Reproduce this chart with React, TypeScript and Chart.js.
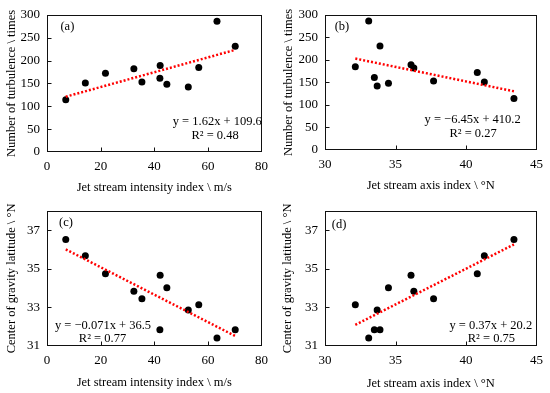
import React, { useEffect, useRef } from 'react';
import { Chart, registerables } from 'chart.js';
Chart.register(...registerables);

// ---- data (12 cases) ----
const intensity = [7.0, 14.3, 21.8, 32.4, 35.4, 42.2, 42.1, 44.7, 52.7, 56.6, 63.4, 70.2];
const axisIndex = [43.4, 41.3, 40.8, 36.3, 37.7, 36.1, 33.5, 34.5, 33.7, 32.15, 33.1, 33.9];
const turbulence = [114, 151, 172, 182, 153, 189, 161, 148, 142, 185, 286, 231];
const gravityLat = [36.52, 35.67, 34.74, 33.84, 33.44, 34.66, 31.84, 34.02, 32.87, 33.14, 31.42, 31.84];

const intensityTicks = [0, 20, 40, 60, 80];
const axisTicks = [30, 35, 40, 45];
const turbulenceTicks = [0, 50, 100, 150, 200, 250, 300];
const latTicks = [31, 33, 35, 37];

const panelLabels = ['(a)', '(b)', '(c)', '(d)'];
const equations = ['y = 1.62x + 109.6', 'y = \u22126.45x + 410.2', 'y = \u22120.071x + 36.5', 'y = 0.37x + 20.2'];
const r2Labels = ['R\u00B2 = 0.48', 'R\u00B2 = 0.27', 'R\u00B2 = 0.77', 'R\u00B2 = 0.75'];
const slopes = [1.62, -6.45, -0.071, 0.37];
const intercepts = [109.6, 410.2, 36.5, 20.2];

const xTitleIntensity = 'Jet stream intensity index \\ m/s';
const xTitleAxis = 'Jet stream axis index \\ \u00B0N';
const yTitleTurb = 'Number of turbulence \\ times';
const yTitleLat = 'Center of gravity latitude \\ \u00B0N';

const FONT = '"Liberation Serif", "Times New Roman", serif';

type Panel = {
  xs: number[]; ys: number[];
  xTicks: number[]; yTicks: number[];
  xMin: number; xMax: number; yMin: number; yMax: number;
  xTitle: string; yTitle: string;
  idx: number;
  // annotation anchors in data coordinates
  labelPos: [number, number]; eqPos: [number, number]; r2Pos: [number, number];
  // layout
  left: number; top: number; w: number; h: number;
  yW: number; xH: number; padTop: number; padRight: number;
  yTitlePad: number; xTitlePad: number;
};

const panels: Panel[] = [
  {
    xs: intensity, ys: turbulence, xTicks: intensityTicks, yTicks: turbulenceTicks,
    xMin: 0, xMax: 80, yMin: 0, yMax: 300, xTitle: xTitleIntensity, yTitle: yTitleTurb, idx: 0,
    labelPos: [7.6, 273], eqPos: [63.5, 66.7], r2Pos: [62.7, 36.6],
    left: 0, top: 0, w: 275, h: 196, yW: 47, xH: 44, padTop: 12, padRight: 11, yTitlePad: 4, xTitlePad: 1,
  },
  {
    xs: axisIndex, ys: turbulence, xTicks: axisTicks, yTicks: turbulenceTicks,
    xMin: 30, xMax: 45, yMin: 0, yMax: 300, xTitle: xTitleAxis, yTitle: yTitleTurb, idx: 1,
    labelPos: [31.2, 273], eqPos: [40.47, 68.2], r2Pos: [40.5, 36],
    left: 275, top: 0, w: 275, h: 196, yW: 50, xH: 46, padTop: 10, padRight: 9, yTitlePad: 6, xTitlePad: 3,
  },
  {
    xs: intensity, ys: gravityLat, xTicks: intensityTicks, yTicks: latTicks,
    xMin: 0, xMax: 80, yMin: 31, yMax: 38, xTitle: xTitleIntensity, yTitle: yTitleLat, idx: 2,
    labelPos: [7.1, 37.4], eqPos: [20.9, 32.03], r2Pos: [20.7, 31.39],
    left: 0, top: 196, w: 275, h: 197, yW: 47, xH: 47, padTop: 10, padRight: 11, yTitlePad: 4, xTitlePad: 3,
  },
  {
    xs: axisIndex, ys: gravityLat, xTicks: axisTicks, yTicks: latTicks,
    xMin: 30, xMax: 45, yMin: 31, yMax: 38, xTitle: xTitleAxis, yTitle: yTitleLat, idx: 3,
    labelPos: [31.0, 37.26], eqPos: [41.76, 32.07], r2Pos: [41.8, 31.39],
    left: 275, top: 196, w: 275, h: 197, yW: 50, xH: 47, padTop: 11, padRight: 9, yTitlePad: 5, xTitlePad: 2,
  },
];

function PanelChart({ p }: { p: Panel }) {
  const ref = useRef<HTMLCanvasElement | null>(null);
  useEffect(() => {
    if (!ref.current) return;
    const pts = p.xs.map((x, i) => ({ x, y: p.ys[i] }));
    const x0 = Math.min(...p.xs);
    const x1 = Math.max(...p.xs);
    const s = slopes[p.idx];
    const b = intercepts[p.idx];
    const trend = [
      { x: x0, y: s * x0 + b },
      { x: x1, y: s * x1 + b },
    ];

    const decor = {
      id: 'decor',
      afterDraw(chart: any) {
        const { ctx, chartArea: a, scales } = chart;
        const xs = scales.x;
        const ys = scales.y;
        ctx.save();
        ctx.strokeStyle = '#111';
        ctx.lineWidth = 1;
        const L = Math.round(a.left) + 0.5;
        const R = Math.round(a.right) - 0.5;
        const T = Math.round(a.top) + 0.5;
        const B = Math.round(a.bottom) - 0.5;
        ctx.strokeRect(L, T, R - L, B - T);
        ctx.beginPath();
        p.xTicks.forEach((v) => {
          if (v === p.xMin || v === p.xMax) return;
          const px = Math.round(xs.getPixelForValue(v)) + 0.5;
          ctx.moveTo(px, B);
          ctx.lineTo(px, B - 4);
        });
        p.yTicks.forEach((v) => {
          if (v === p.yMin || v === p.yMax) return;
          const py = Math.round(ys.getPixelForValue(v)) + 0.5;
          ctx.moveTo(L, py);
          ctx.lineTo(L + 4, py);
        });
        ctx.stroke();

        ctx.fillStyle = '#000';
        ctx.font = `12.5px ${FONT}`;
        ctx.textBaseline = 'middle';
        ctx.textAlign = 'center';
        ctx.fillText(panelLabels[p.idx], xs.getPixelForValue(p.labelPos[0]), ys.getPixelForValue(p.labelPos[1]));
        ctx.fillText(equations[p.idx], xs.getPixelForValue(p.eqPos[0]), ys.getPixelForValue(p.eqPos[1]));
        ctx.fillText(r2Labels[p.idx], xs.getPixelForValue(p.r2Pos[0]), ys.getPixelForValue(p.r2Pos[1]));
        ctx.restore();
      },
    };

    const chart = new Chart(ref.current, {
      type: 'scatter',
      data: {
        datasets: [
          {
            data: trend,
            showLine: true,
            borderColor: '#ff0000',
            borderWidth: 2.5,
            borderDash: [2, 2],
            pointRadius: 0,
            fill: false,
          } as any,
          {
            data: pts,
            backgroundColor: '#000',
            borderColor: '#000',
            borderWidth: 0,
            pointRadius: 3.5,
          },
        ],
      },
      options: {
        animation: false,
        responsive: false,
        maintainAspectRatio: false,
        layout: { padding: { top: p.padTop, right: p.padRight, left: 0, bottom: 0 } },
        plugins: { legend: { display: false }, tooltip: { enabled: false } },
        scales: {
          x: {
            type: 'linear',
            min: p.xMin,
            max: p.xMax,
            grid: { display: false, drawTicks: false },
            border: { display: false },
            afterBuildTicks: (sc: any) => { sc.ticks = p.xTicks.map((v) => ({ value: v })); },
            afterFit: (sc: any) => { sc.height = p.xH; },
            ticks: { color: '#000', font: { family: FONT, size: 13 }, padding: 7, maxRotation: 0 },
            title: {
              display: true, text: p.xTitle, color: '#000',
              font: { family: FONT, size: 12.5 }, padding: { top: 0, bottom: p.xTitlePad },
            },
          },
          y: {
            type: 'linear',
            min: p.yMin,
            max: p.yMax,
            grid: { display: false, drawTicks: false },
            border: { display: false },
            afterBuildTicks: (sc: any) => { sc.ticks = p.yTicks.map((v) => ({ value: v })); },
            afterFit: (sc: any) => { sc.width = p.yW; },
            ticks: { color: '#000', font: { family: FONT, size: 13 }, padding: 7 },
            title: {
              display: true, text: p.yTitle, color: '#000',
              font: { family: FONT, size: 12.5 }, padding: { top: p.yTitlePad, bottom: 0 },
            },
          },
        },
      },
      plugins: [decor],
    });
    return () => chart.destroy();
  }, [p]);

  return (
    <canvas
      ref={ref}
      width={p.w}
      height={p.h}
      style={{ position: 'absolute', left: p.left, top: p.top, width: p.w, height: p.h }}
    />
  );
}

export default function App() {
  useEffect(() => {
    document.body.style.margin = '0';
  }, []);
  return (
    <div style={{ position: 'absolute', left: 0, top: 0, width: 550, height: 393, background: '#fff' }}>
      {panels.map((p) => (
        <PanelChart key={p.idx} p={p} />
      ))}
    </div>
  );
}
